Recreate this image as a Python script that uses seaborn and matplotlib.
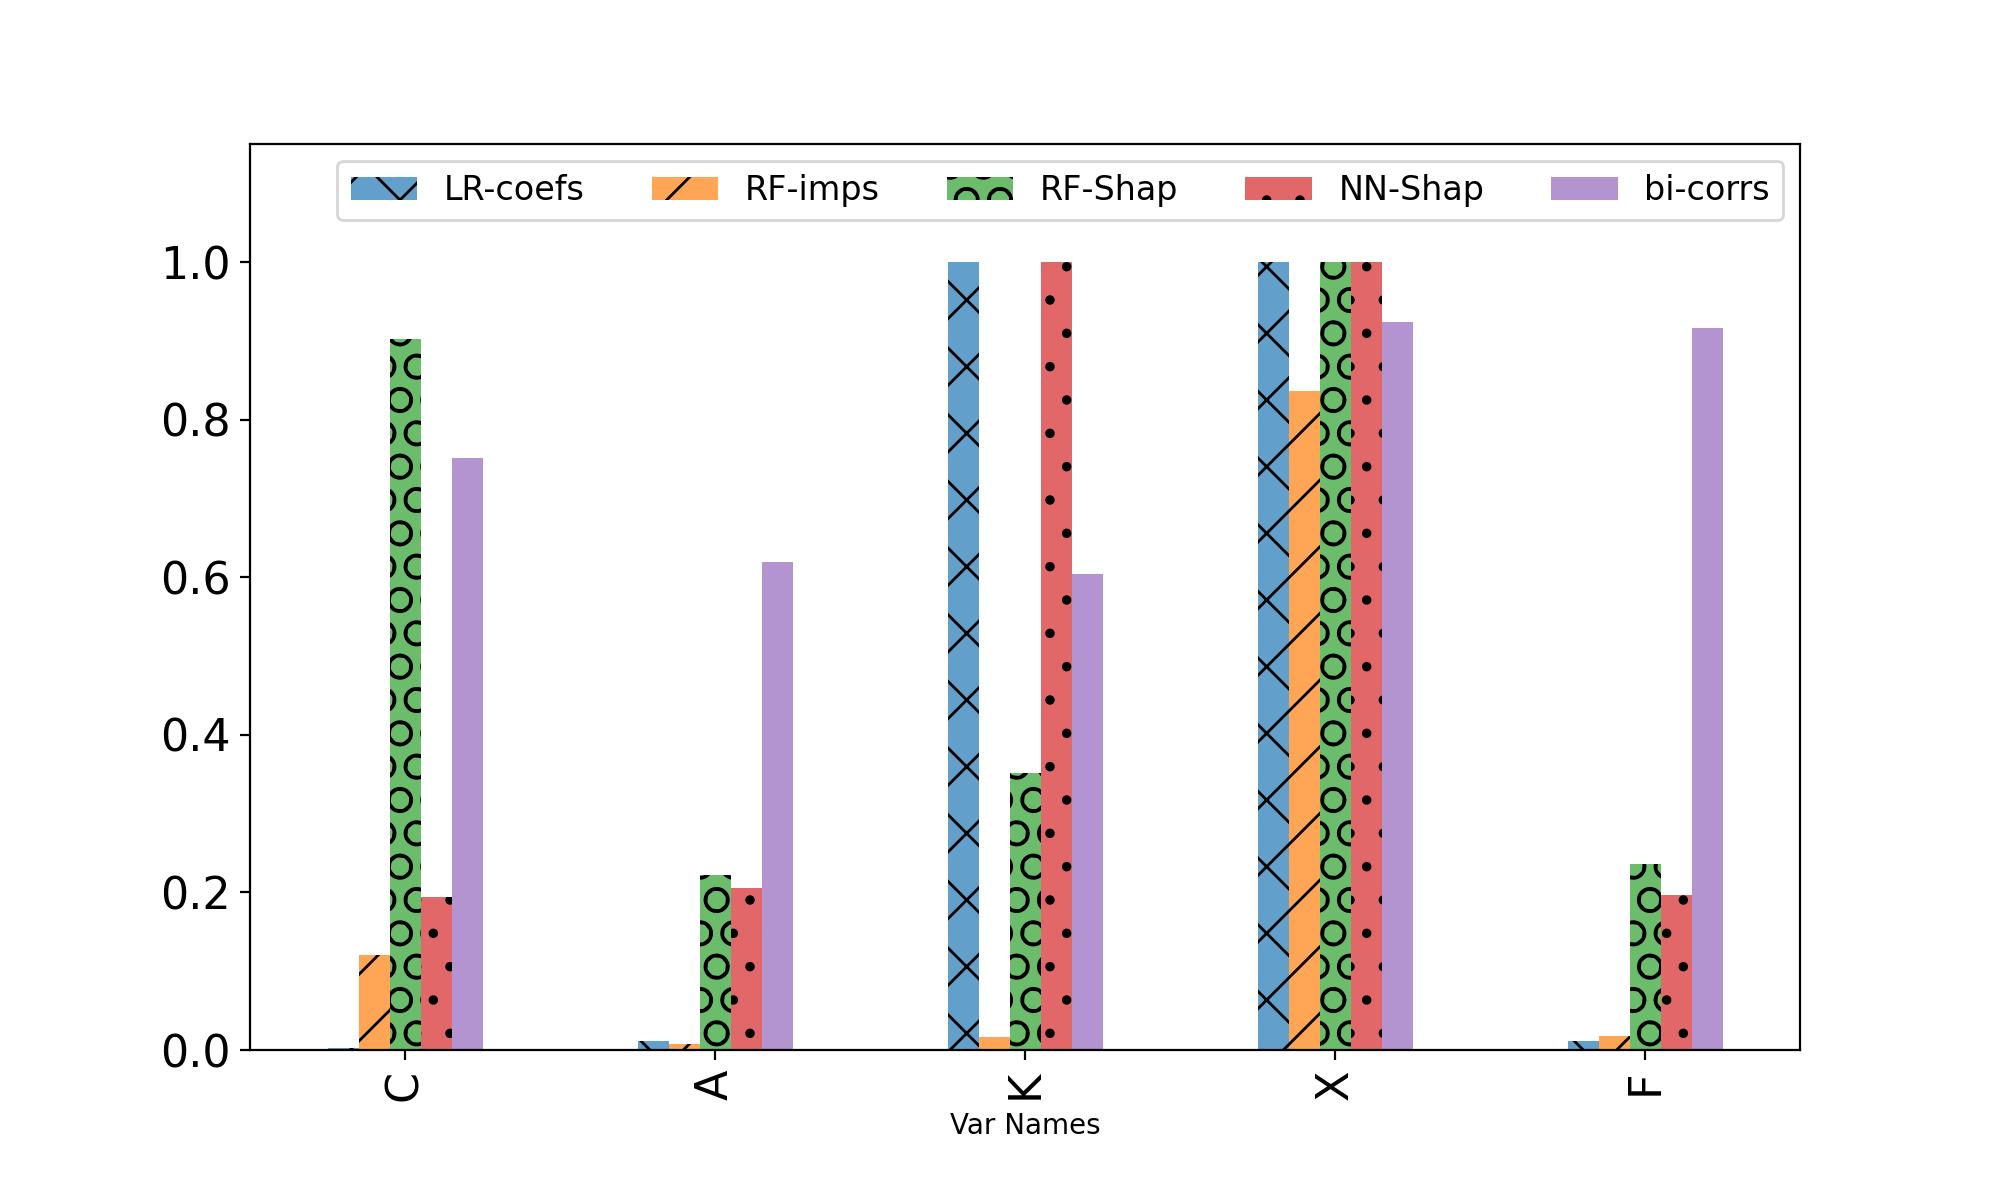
import pandas as pd
import matplotlib.pyplot as plt
import matplotlib.colors as mcolors
import seaborn as sns

var_names = ["C", "A", "K", "X", "F"]
methods = ["LR-coefs", "RF-imps", "RF-Shap", "NN-Shap", "bi-corrs"]

lr_coefs = [0.003, 0.011, 1.0, 1.0, 0.011]
rf_imps = [0.120, 0.007, 0.016, 0.837, 0.018]
rf_shap = [0.902, 0.222, 0.351, 1.0, 0.236]
nn_shap = [0.194, 0.205, 1.0, 1.0, 0.197]
bi_corrs = [0.751, 0.620, 0.604, 0.924, 0.916]

hatches = ["x", "/", "O", ".", ""]

df = pd.DataFrame({
    "Var Names": var_names,
    "LR-coefs": lr_coefs,
    "RF-imps": rf_imps,
    "RF-Shap": rf_shap,
    "NN-Shap": nn_shap,
    "bi-corrs": bi_corrs,
})
long_df = df.melt(id_vars="Var Names", var_name="method", value_name="value")

colors = sns.color_palette("tab10", 5)

fig, ax = plt.subplots(figsize=(10, 6), dpi=200)
fig.subplots_adjust(left=0.125, right=0.9, top=0.88, bottom=0.125)

sns.barplot(data=long_df, x="Var Names", y="value", hue="method",
            hue_order=methods, order=var_names, palette=colors,
            width=0.5, saturation=1, errorbar=None, legend=False, ax=ax)

# pandas-like look: translucent fill, black hatch, no outline
for cont, col, h in zip(ax.containers, colors, hatches):
    for patch in cont:
        patch.set_alpha(None)
        patch.set_facecolor(mcolors.to_rgba(col, 0.7))
        patch.set_edgecolor("black")
        patch.set_linewidth(0)
        patch.set_hatch(h)

ax.set_ylim(0, 1.15)
ax.set_xlim(-0.5, len(var_names) - 0.5)
ax.set_xlabel("Var Names", fontsize=10)
ax.set_ylabel("")
ax.tick_params(axis="both", labelsize=16)
ax.tick_params(axis="x", labelrotation=90)

ax.legend(ax.containers, methods, ncol=5, fontsize=12, loc="upper right")

fig.savefig("out.png", dpi=200)
